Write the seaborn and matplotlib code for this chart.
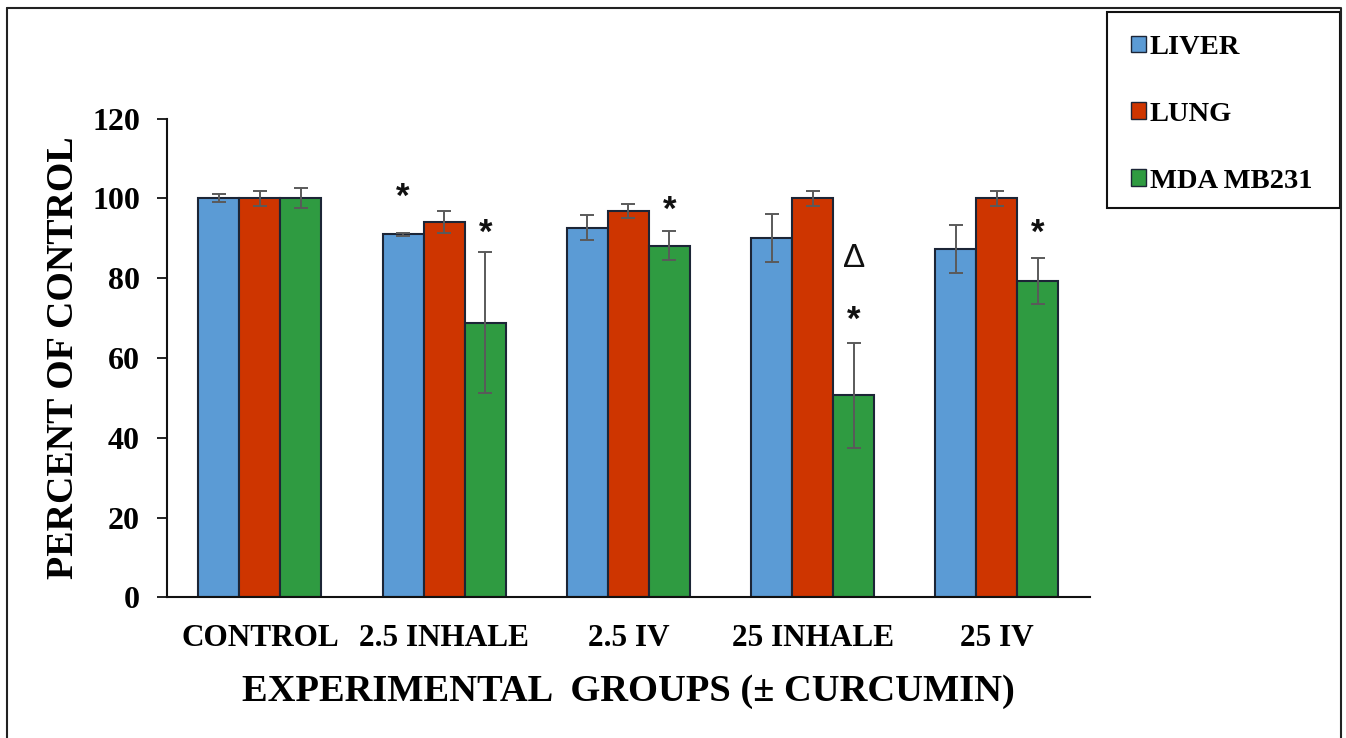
import numpy as np
import pandas as pd
import matplotlib
matplotlib.use("Agg")
import matplotlib.pyplot as plt
from matplotlib.patches import Rectangle, Patch
from matplotlib.lines import Line2D
import seaborn as sns

# ---- data -----------------------------------------------------------------
groups = ["CONTROL", "2.5 INHALE", "2.5 IV", "25 INHALE", "25 IV"]
tissues = ["LIVER", "LUNG", "MDA MB231"]

liver = [100.0, 91.0, 92.7, 90.0, 87.4]
lung = [100.0, 94.1, 96.9, 100.0, 100.0]
mda = [100.0, 68.8, 88.2, 50.6, 79.3]

liver_err = [1.0, 0.4, 3.2, 6.0, 6.0]
lung_err = [1.9, 2.8, 1.8, 1.9, 1.9]
mda_err = [2.5, 17.7, 3.6, 13.1, 5.8]

# significance marks: (group, tissue, symbol)
marks = [
    ("2.5 INHALE", "LIVER", "*"),
    ("2.5 INHALE", "MDA MB231", "*"),
    ("2.5 IV", "MDA MB231", "*"),
    ("25 INHALE", "MDA MB231", "\u0394"),
    ("25 INHALE", "MDA MB231", "*"),
    ("25 IV", "MDA MB231", "*"),
]

# ---- style ----------------------------------------------------------------
colors = ["#5B9BD5", "#CE3500", "#2F9B41"]
edge = "#1c2536"
mark_lift = [9.7, 5.6, 6.2, 21.3, 6.6, 7.0]   # gap above error-bar tops

sns.set_style("white")
plt.rcParams["font.family"] = ["Liberation Serif", "DejaVu Serif"]
plt.rcParams["font.weight"] = "bold"
plt.rcParams["text.color"] = "black"
plt.rcParams["axes.labelcolor"] = "black"
plt.rcParams["xtick.color"] = "black"
plt.rcParams["ytick.color"] = "black"

W, H = 1346, 738
fig = plt.figure(figsize=(W / 100, H / 100), dpi=100)
ax = fig.add_axes([166.7 / W, 1 - 597.3 / H, (1090 - 166.7) / W, (597.3 - 118.7) / H])

rows = []
for t, vals in zip(tissues, [liver, lung, mda]):
    for g, v in zip(groups, vals):
        rows.append({"group": g, "tissue": t, "value": v})
df = pd.DataFrame(rows)

sns.barplot(data=df, x="group", y="value", hue="tissue", order=groups,
            hue_order=tissues, palette=colors, saturation=1, width=0.668,
            errorbar=None, edgecolor=edge, linewidth=1.5, legend=False, ax=ax)

tops = {}
for t, cont, errs in zip(tissues, ax.containers, [liver_err, lung_err, mda_err]):
    xs = [p.get_x() + p.get_width() / 2 for p in cont]
    hs = [p.get_height() for p in cont]
    ax.errorbar(xs, hs, yerr=errs, fmt="none", ecolor="#5a5a5a",
                elinewidth=1.4, capsize=4.7, capthick=1.4, zorder=3)
    for g, x, h, e in zip(groups, xs, hs, errs):
        tops[(g, t)] = (x, h + e)

for (g, t, sym), lift in zip(marks, mark_lift):
    x, top = tops[(g, t)]
    if sym == "*":
        ax.text(x, top + lift, sym, ha="center", va="center_baseline",
                fontsize=25, family="Liberation Sans", fontweight="bold",
                color="#111111")
    else:
        ax.text(x, top + lift, sym, ha="center", va="center",
                fontsize=24, family="Liberation Sans", fontweight="normal",
                color="#111111")

ax.set_xlim(-0.506, 4.505)
ax.set_ylim(0, 120)
ax.set_yticks(range(0, 121, 20))
sns.despine(ax=ax)
for s in ("left", "bottom"):
    ax.spines[s].set_linewidth(1.5)
    ax.spines[s].set_color("#111111")

ax.tick_params(axis="y", direction="out", length=7.2, width=1.3,
               labelsize=23, pad=12, left=True, color="#111111")
ax.tick_params(axis="x", length=0, labelsize=22.5, pad=19.5)
for lab in ax.get_xticklabels() + ax.get_yticklabels():
    lab.set_fontweight("bold")

ax.set_ylabel("PERCENT OF CONTROL", fontsize=27.3, fontweight="bold", labelpad=7.7)
ax.set_xlabel("EXPERIMENTAL  GROUPS (\u00b1 CURCUMIN)", fontsize=27.7,
              fontweight="bold", labelpad=14.5)

# legend
handles = [Patch(facecolor=c, edgecolor=edge, linewidth=1.0) for c in colors]
fig.legend(handles, tissues, loc="upper left",
           bbox_to_anchor=(1131 / W, 1 - 35 / H), frameon=False,
           prop={"family": "Liberation Serif", "weight": "bold", "size": 20.5},
           handlelength=0.53, handleheight=0.53, handletextpad=0.12,
           labelspacing=1.47, borderpad=0, borderaxespad=0)
fig.add_artist(Rectangle((1107 / W, 1 - 208 / H), 233 / W, 196 / H,
                         transform=fig.transFigure, fill=False,
                         edgecolor="#111111", linewidth=1.5))

# outer frame (open at the bottom)
fr = dict(transform=fig.transFigure, color="#222222", linewidth=1.5)
fig.add_artist(Line2D([7 / W, 7 / W], [0, 1 - 8 / H], **fr))
fig.add_artist(Line2D([7 / W, 1340 / W], [1 - 8 / H, 1 - 8 / H], **fr))
fig.add_artist(Line2D([1341 / W, 1341 / W], [0, 1 - 8 / H], **fr))

fig.savefig("out.png", dpi=100, facecolor="white")
